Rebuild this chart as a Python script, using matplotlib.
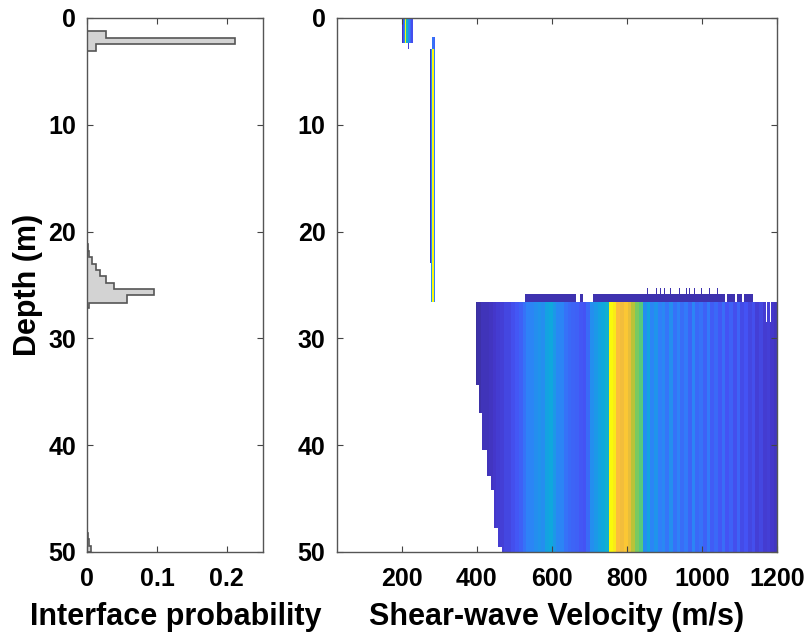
import numpy as np
import matplotlib.pyplot as plt
from matplotlib.colors import LinearSegmentedColormap

plt.rcParams['font.family'] = ['Liberation Sans', 'DejaVu Sans']
plt.rcParams['font.weight'] = 'bold'

# interface probability histogram (depth bin edges, probability per bin)
prob_edges = [0.0, 1.22, 1.84, 2.46, 3.12, 21.2, 21.8, 22.4, 23.0, 23.6, 24.2,
              24.8, 25.4, 25.96, 26.65, 27.2, 48.2, 48.8, 49.4, 50.0]
prob_vals = [0.0, 0.027, 0.212, 0.013, 0.0, 0.001, 0.003, 0.006, 0.012, 0.018,
             0.027, 0.038, 0.096, 0.057, 0.002, 0.0, 0.001, 0.003, 0.005]

# layer blocks of the velocity density: (top, bottom, velocity edges, levels)
layer_blocks = [
    (0.0, 2.4, [198, 201, 204, 206, 211, 214, 217, 221, 224, 228],
     [0.06, 0.15, 0.3, 1.0, 0.45, 0.3, 0.25, 0.2, 0.14]),
    (2.4, 3.0, [216, 219], [0.1]),
    (1.9, 3.0, [280, 284, 287], [0.22, 0.18]),
    (3.0, 23.0, [273, 276], [0.06]),
    (3.0, 26.6, [276, 279, 283, 287], [0.3, 1.0, 0.25]),
]

# half-space (below ~26.6 m): density per 10 m/s bin starting at 390 m/s
hs_v0 = 390
hs_vals = [0.03, 0.04, 0.06, 0.06, 0.07, 0.08, 0.09, 0.10, 0.12, 0.12,
           0.14, 0.16, 0.18, 0.22, 0.26, 0.27, 0.30, 0.32, 0.30, 0.36,
           0.38, 0.33, 0.28, 0.27, 0.22, 0.20, 0.19, 0.18, 0.16, 0.15,
           0.20, 0.30, 0.33, 0.36, 0.38, 0.42, 1.00, 0.97, 0.88, 0.86,
           0.90, 0.84, 0.76, 0.66, 0.60, 0.30, 0.36, 0.27, 0.32, 0.25,
           0.28, 0.23, 0.30, 0.22, 0.26, 0.21, 0.24, 0.19, 0.27, 0.20,
           0.22, 0.18, 0.24, 0.17, 0.20, 0.16, 0.21, 0.15, 0.18, 0.14,
           0.19, 0.13, 0.15, 0.12, 0.14, 0.10, 0.12, 0.09, 0.10, 0.08, 0.07]
# lower velocity limit of the half-space, by depth interval
hs_depth = [26.6, 34.4, 37.0, 40.5, 42.9, 44.2, 47.8, 49.5, 50.0]
hs_vmin = [395, 405, 412, 425, 437, 445, 455, 465]

# thin band just above the half-space
band_segments = [(526, 662), (673, 680), (708, 1058), (1065, 1085),
                 (1090, 1105), (1110, 1133)]
spike_vel = [851, 876, 887, 896, 912, 937, 946, 955, 964, 977, 995, 1017, 1038]
gap_vel = [1168, 1179]

parula = LinearSegmentedColormap.from_list('parula_like', [
    (0.00, (0.21, 0.17, 0.53)),
    (0.08, (0.27, 0.22, 0.80)),
    (0.15, (0.27, 0.33, 0.96)),
    (0.25, (0.19, 0.50, 0.98)),
    (0.38, (0.06, 0.66, 0.87)),
    (0.50, (0.10, 0.74, 0.70)),
    (0.62, (0.38, 0.80, 0.45)),
    (0.75, (0.70, 0.77, 0.22)),
    (0.88, (0.99, 0.74, 0.24)),
    (1.00, (0.98, 0.98, 0.05)),
])
parula.set_bad('white')

# grid for the density image
v_lo, v_hi, dv = 26, 1200, 1.0
dd = 0.1
Z = np.full((int(50 / dd), int((v_hi - v_lo) / dv)), np.nan)


def row(d):
    return int(round(d / dd))


def col(v):
    return int(round((v - v_lo) / dv))


for top, bot, vedges, levels in layer_blocks:
    for i, lev in enumerate(levels):
        Z[row(top):row(bot), col(vedges[i]):col(vedges[i + 1])] = lev

for k, vmin in enumerate(hs_vmin):
    r0, r1 = row(hs_depth[k]), row(hs_depth[k + 1])
    for i, lev in enumerate(hs_vals):
        a = max(hs_v0 + 10 * i, vmin)
        b = hs_v0 + 10 * (i + 1)
        if b > a:
            Z[r0:r1, col(a):col(b)] = lev

for a, b in band_segments:
    Z[row(25.9):row(26.6), col(a):col(b)] = 0.05
for v in spike_vel:
    Z[row(25.3):row(25.9), col(v):col(v + 2)] = 0.05
for v in gap_vel:
    Z[row(26.6):row(28.5), col(v):col(v + 2)] = np.nan

fig = plt.figure(figsize=(8.09, 6.39), dpi=100)
ax1 = fig.add_axes([0.108, 0.1362, 0.2176, 0.8357])
ax2 = fig.add_axes([0.416, 0.1362, 0.5445, 0.8357])

ax1.stairs(prob_vals, prob_edges, orientation='horizontal', fill=True,
           facecolor='#d3d3d3', edgecolor='none')
ax1.stairs(prob_vals, prob_edges, orientation='horizontal', color='#555555',
           linewidth=1.2)
ax1.set_xlim(0, 0.253)
ax1.set_xticks([0, 0.1, 0.2])
ax1.set_xticklabels(['0', '0.1', '0.2'])
ax1.set_xlabel('Interface probability', fontsize=22, fontweight='bold',
               labelpad=8)
ax1.set_ylabel('Depth (m)', fontsize=22, fontweight='bold', labelpad=4)

ax2.imshow(Z, extent=[v_lo, v_hi, 50, 0], aspect='auto', cmap=parula,
           vmin=0, vmax=1, interpolation='nearest')
ax2.set_xlim(v_lo, v_hi)
ax2.set_xticks([200, 400, 600, 800, 1000, 1200])
ax2.set_xlabel('Shear-wave Velocity (m/s)', fontsize=22, fontweight='bold',
               labelpad=8)

for ax in (ax1, ax2):
    ax.set_ylim(50, 0)
    ax.set_yticks([0, 10, 20, 30, 40, 50])
    ax.tick_params(direction='in', length=4, width=0.8, color='#444444',
                   top=True, right=True, labelsize=18, pad=8)
    ax.tick_params(axis='x', pad=11)
    for s in ax.spines.values():
        s.set_color('#555555')
        s.set_linewidth(1.0)
    for lab in ax.get_xticklabels() + ax.get_yticklabels():
        lab.set_fontweight('bold')

fig.savefig('out.png', dpi=100, facecolor='white')
